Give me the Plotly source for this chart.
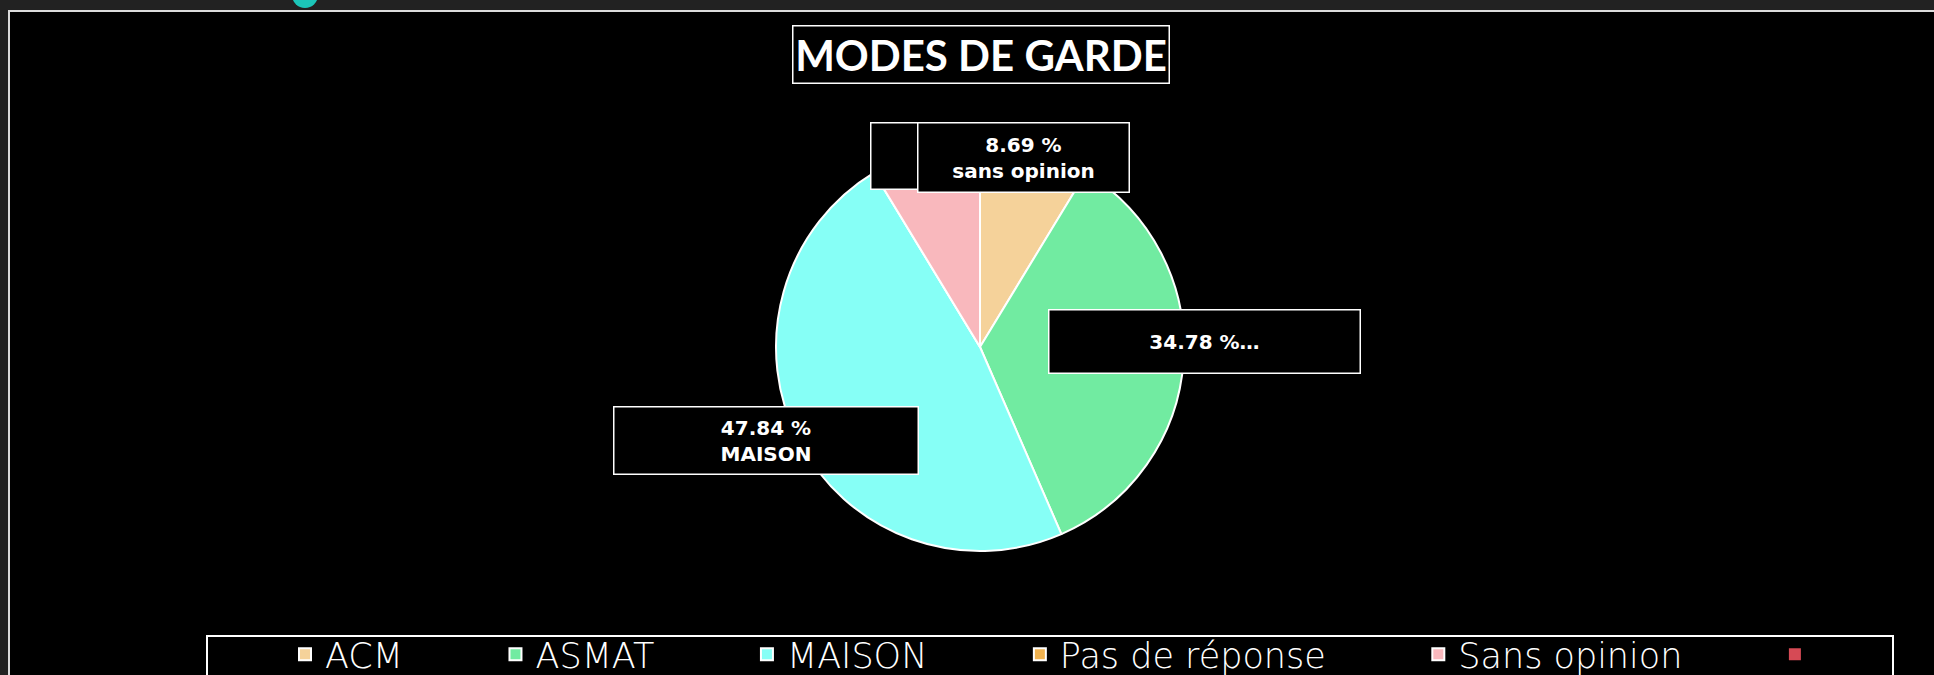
import plotly.graph_objects as go

# ---------------- data ----------------
categories = ["ACM", "ASMAT", "MAISON", "Pas de réponse", "Sans opinion", ""]
values = [8.69, 34.78, 47.84, 0, 8.69, 0]
colors = ["#f5d29a", "#71eba1", "#86fff6", "#f0b24f", "#f9b8bd", "#d64a55"]
# second line of each data label ("" = blank box, "…" = truncated label, None = no label)
label_names = ["", "…", "MAISON", None, "sans opinion", None]
title_text = "MODES DE GARDE"

# ---------------- layout helpers ----------------
W, H = 1934, 675


def px_x(x):
    return x / W


def px_y(y):
    return 1 - y / H


# label box geometry (centre x, centre y, width, height) in pixels, drawing order
label_boxes = {
    0: (976, 156, 213, 68),
    1: (1204, 341, 313, 65),
    2: (766, 440, 306, 69),
    4: (1023, 157, 213, 71),
}
draw_order = [1, 2, 0, 4]

pad = "\u2002" * 5
legend_names = [c + pad if c else "\u2002" for c in categories]

fig = go.Figure()
fig.add_trace(
    go.Pie(
        labels=legend_names,
        values=values,
        sort=False,
        direction="clockwise",
        rotation=0,
        textinfo="none",
        hoverinfo="label+percent",
        marker=dict(
            colors=colors,
            line=dict(color=["white"] * 5 + [colors[5]], width=[2] * 5 + [0]),
        ),
        domain=dict(x=[px_x(980 - 204), px_x(980 + 204)], y=[px_y(347 + 204), px_y(347 - 204)]),
        showlegend=True,
    )
)

annotations = []
bw = 1.5
for i in draw_order:
    name = label_names[i]
    cx, cy, w, h = label_boxes[i]
    if name == "":
        text = " "
    elif name == "…":
        text = f"{values[i]:.2f} %" + name
    else:
        text = f"{values[i]:.2f} %<br>{name}"
    annotations.append(
        dict(
            x=px_x(cx), y=px_y(cy), xref="paper", yref="paper",
            xanchor="center", yanchor="middle",
            text=text, showarrow=False,
            font=dict(family="DejaVu Sans", size=20, color="white", weight="bold"),
            bgcolor="black", bordercolor="white", borderwidth=bw, borderpad=0,
            width=w - 2 * bw, height=h - 2 * bw, align="center", valign="middle",
        )
    )

# title box
annotations.append(
    dict(
        x=px_x(980.5), y=px_y(54.5), xref="paper", yref="paper",
        xanchor="center", yanchor="middle",
        text=title_text, showarrow=False,
        font=dict(family="Lato", size=42, color="white", weight="bold"),
        bgcolor="black", bordercolor="white", borderwidth=bw, borderpad=0,
        width=378 - 2 * bw, height=59 - 2 * bw,
    )
)

shapes = [
    # black panel
    dict(type="rect", xref="paper", yref="paper", layer="below",
         x0=px_x(9), x1=1.02, y0=-0.05, y1=px_y(11),
         fillcolor="black", line=dict(color="#dcdcdc", width=2)),
    # teal badge at top
    dict(type="circle", xref="paper", yref="paper", layer="below",
         x0=px_x(292), x1=px_x(318), y0=px_y(8), y1=px_y(-18),
         fillcolor="#1cc5b8", line=dict(width=0)),
    # legend frame
    dict(type="rect", xref="paper", yref="paper", layer="below",
         x0=px_x(207), x1=px_x(1893), y0=-0.05, y1=px_y(636),
         fillcolor="black", line=dict(color="white", width=2)),
]

fig.update_layout(
    width=W, height=H,
    margin=dict(l=0, r=0, t=0, b=0, autoexpand=False),
    paper_bgcolor="#222222",
    plot_bgcolor="black",
    annotations=annotations,
    shapes=shapes,
    legend=dict(
        orientation="h",
        x=px_x(285), xanchor="left",
        y=px_y(625), yanchor="top",
        bgcolor="rgba(0,0,0,0)",
        font=dict(family="DejaVu Sans", size=35, color="white", weight=200),
        traceorder="normal",
    ),
)

fig.write_html(
    "out.html",
    config={"displayModeBar": False},
    post_script="document.body.style.margin='0px';document.body.style.overflow='hidden';",
)
